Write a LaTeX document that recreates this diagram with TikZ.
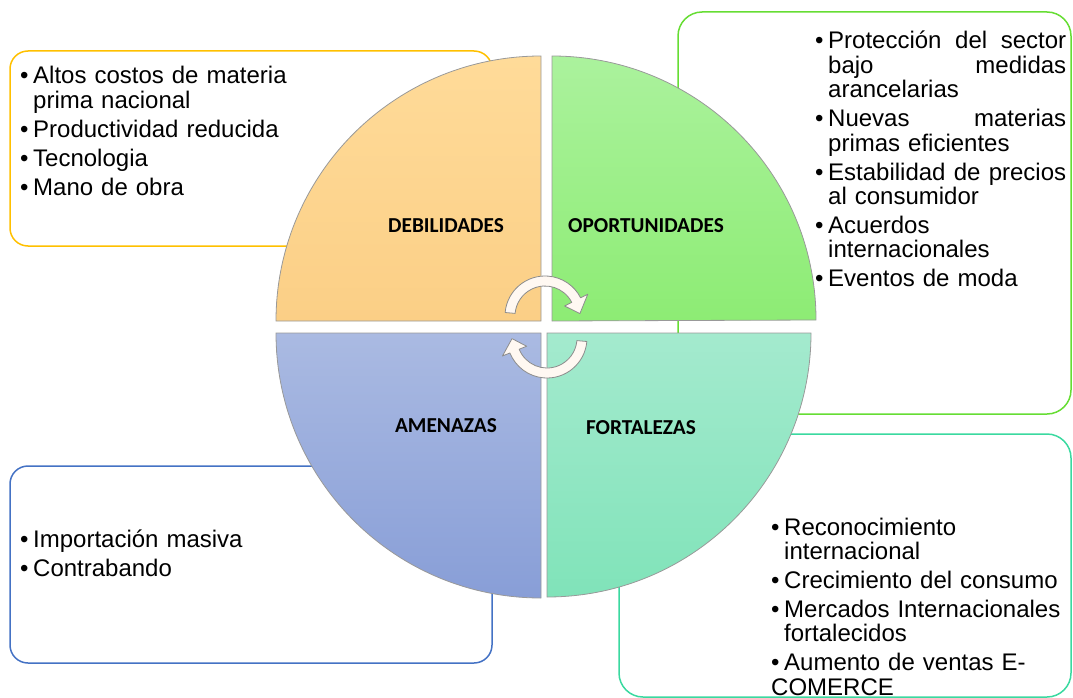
\documentclass[tikz,border=0pt]{standalone}
\usepackage{fontspec}
\setmainfont{Liberation Sans}
\newfontfamily\headfont{Carlito}
\usetikzlibrary{calc}

\definecolor{debline}{HTML}{FFC000}
\definecolor{oppline}{HTML}{66DD33}
\definecolor{amline}{HTML}{4472C4}
\definecolor{fortline}{HTML}{3AD9A0}
\definecolor{debtop}{HTML}{FFDB99}
\definecolor{debbot}{HTML}{FBCF86}
\definecolor{opptop}{HTML}{ABF29D}
\definecolor{oppbot}{HTML}{8DEC74}
\definecolor{amtop}{HTML}{AABAE2}
\definecolor{ambot}{HTML}{889ED7}
\definecolor{forttop}{HTML}{A4EACE}
\definecolor{fortbot}{HTML}{80E3B9}
\definecolor{arrowfill}{HTML}{FFF8F2}

\newcommand{\swotitem}[1]{\par\parskip=4.6pt\relax\noindent\hangindent=13pt\hangafter=1\makebox[13pt][l]{\textbullet}#1}

\begin{document}
\begin{tikzpicture}[x=1pt,y=-1pt,
    boxline/.style={line width=1.5pt,rounded corners=#1},
    quarter/.style={draw=black!40,line width=0.8pt},
    swottext/.style={anchor=base west,inner sep=0pt,text width=#1,font=\fontsize{24}{24.4}\selectfont},
    swothead/.style={inner sep=0pt,font=\headfont\bfseries\fontsize{21.3}{24}\selectfont},
    cyclearrow/.style={fill=arrowfill,draw=black!45,line width=0.8pt,line join=round}]
  \useasboundingbox (0,0) rectangle (1073,698);

  % outline boxes behind the circle
  \draw[boxline=18pt,debline] (10,51) rectangle (492,246);
  \draw[boxline=24pt,oppline] (678,12) rectangle (1071,414);
  \draw[boxline=18pt,amline] (10,466) rectangle (492,663);
  \draw[boxline=24pt,fortline] (619,434) rectangle (1071,697);

  % four quarters
  \coordinate (dc) at (541,321);
  \coordinate (oc) at (552,321);
  \coordinate (fc) at (547,333);
  \coordinate (ac) at (541,333);
  \draw[quarter,top color=debtop,bottom color=debbot] (dc) -- ++(-265,0) arc[start angle=-180,end angle=-90,radius=265] -- cycle;
  \draw[quarter,top color=opptop,bottom color=oppbot] (oc) -- ++(0,-265) arc[start angle=-90,end angle=0,radius=264] -- cycle;
  \draw[quarter,top color=forttop,bottom color=fortbot] (fc) -- ++(264,0) arc[start angle=0,end angle=90,radius=264] -- cycle;
  \draw[quarter,top color=amtop,bottom color=ambot] (ac) -- ++(0,265) arc[start angle=90,end angle=180,radius=265] -- cycle;

  \node[swothead] (deb) at (446,226) {DEBILIDADES};
  \node[swothead] (opp) at (646,226) {OPORTUNIDADES};
  \node[swothead] (am) at (446,426) {AMENAZAS};
  \node[swothead] (fort) at (641,428) {FORTALEZAS};

  % turning arrows in the middle
  \coordinate (ca) at (545,316);
  \coordinate (cb) at (547,338);
  \draw[cyclearrow] ($(ca)+(-175:40)$) arc[start angle=-175,end angle=-27,radius=40]
    -- ($(ca)+(-27:48)$) -- ($(ca)+(-4:35)$) -- ($(ca)+(-27:22)$) -- ($(ca)+(-27:30)$)
    arc[start angle=-27,end angle=-175,radius=30] -- cycle;
  \draw[cyclearrow] ($(cb)+(5:40)$) arc[start angle=5,end angle=158,radius=40]
    -- ($(cb)+(158:48)$) -- ($(cb)+(179:35)$) -- ($(cb)+(158:22)$) -- ($(cb)+(158:30)$)
    arc[start angle=158,end angle=5,radius=30] -- cycle;

  % lists
  \node[swottext=330pt] (debtext) at (20,55) {%
    \swotitem{Altos costos de materia\newline prima nacional}%
    \swotitem{Productividad reducida}%
    \swotitem{Tecnologia}%
    \swotitem{Mano de obra}};
  \node[swottext=251pt] (opptext) at (815,20) {%
    \swotitem{Protección\hfill del\hfill sector\newline bajo\hfill medidas\newline arancelarias}%
    \swotitem{Nuevas\hfill materias\newline primas eficientes}%
    \swotitem{Estabilidad\hfill de\hfill precios\newline al consumidor}%
    \swotitem{Acuerdos\newline internacionales}%
    \swotitem{Eventos de moda}};
  \node[swottext=330pt] (amtext) at (20,518) {%
    \swotitem{Importación masiva}%
    \swotitem{Contrabando}};
  \node[swottext=300pt] (forttext) at (771,506) {%
    \swotitem{Reconocimiento\newline internacional}%
    \swotitem{Crecimiento del consumo}%
    \swotitem{Mercados Internacionales\newline fortalecidos}%
    \swotitem{Aumento de ventas E-\newline COMERCE}};
\end{tikzpicture}
\end{document}
